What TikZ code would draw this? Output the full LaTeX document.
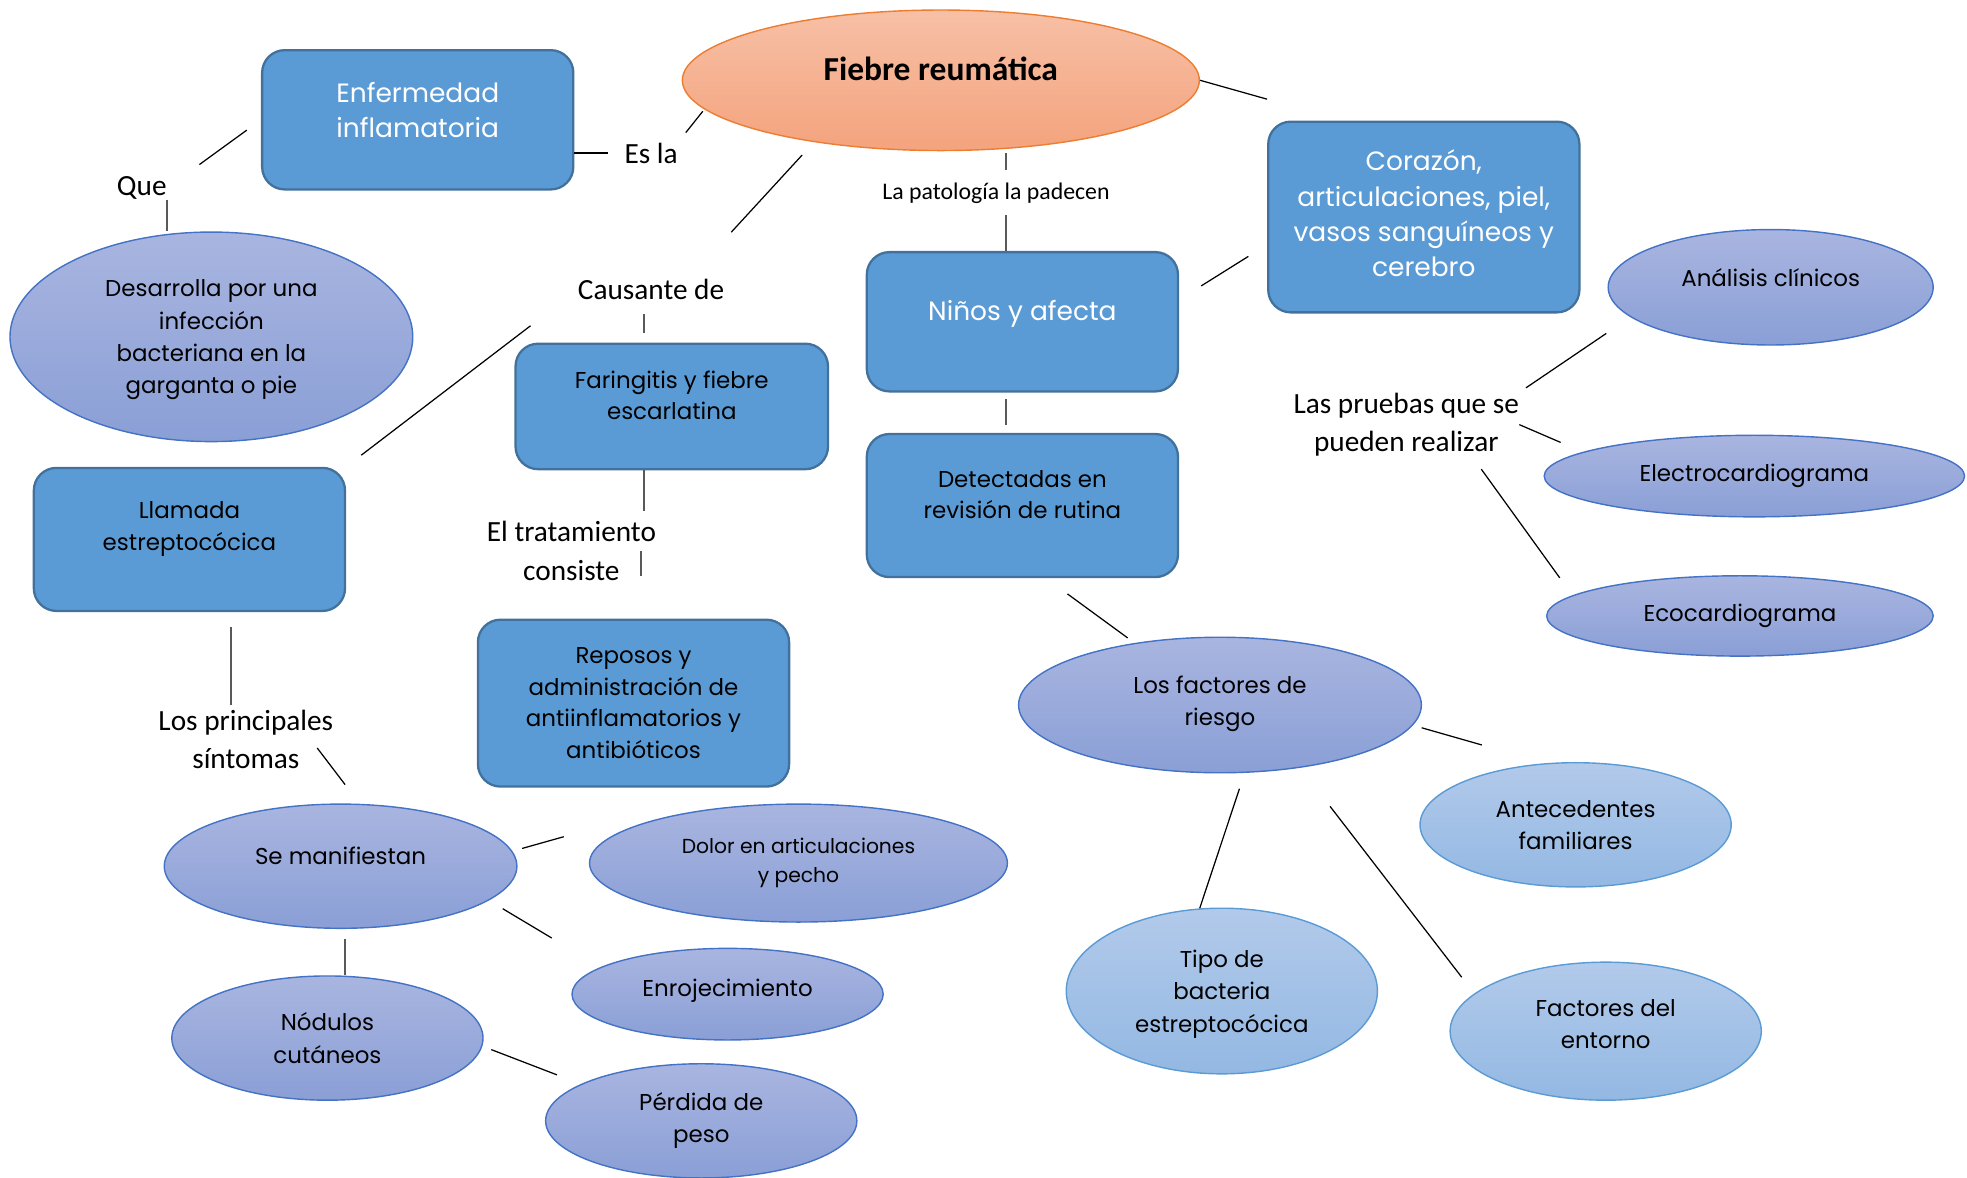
\documentclass[tikz,border=0pt]{standalone}
\usepackage{fontspec}
\setmainfont{Poppins}
\newfontfamily\calibri{Carlito}
\usetikzlibrary{shapes.geometric}
\definecolor{boxblue}{HTML}{5B9BD5}
\definecolor{boxedge}{HTML}{41719C}
\definecolor{lavtop}{HTML}{A9B5E0}
\definecolor{lavbot}{HTML}{8A9FD6}
\definecolor{lavedge}{HTML}{4472C4}
\definecolor{skytop}{HTML}{B2CAEA}
\definecolor{skybot}{HTML}{93B8E3}
\definecolor{skyedge}{HTML}{5B9BD5}
\definecolor{peachtop}{HTML}{F7C0A6}
\definecolor{peachbot}{HTML}{F4A37D}
\definecolor{peachedge}{HTML}{ED7D31}
\definecolor{linkgray}{HTML}{595959}

\begin{document}
\begin{tikzpicture}[x=0.025cm, y=-0.025cm,
    box/.style={draw=boxedge, line width=1.3pt, fill=boxblue, rounded corners=0.45cm, align=center, minimum width=6.2cm, inner sep=2pt},
    wbox/.style={box, text=white, font=\fontsize{15}{20}\selectfont},
    kbox/.style={box, font=\fontsize{13}{17.8}\selectfont},
    oval/.style={ellipse, draw=lavedge, line width=0.8pt, top color=lavtop, bottom color=lavbot, align=center, inner sep=0pt, font=\fontsize{13}{18.3}\selectfont},
    soval/.style={oval, draw=skyedge, top color=skytop, bottom color=skybot},
    lbl/.style={inner sep=0pt, align=center, font=\calibri\fontsize{16.6}{22}\selectfont},
    con/.style={draw=black, line width=0.7pt},
    vcon/.style={draw=linkgray, line width=1pt}]
    \useasboundingbox (0,0) rectangle (1568,939);

    % main topic
    \node[oval, minimum width=10.3cm, minimum height=2.8cm, top color=peachtop, bottom color=peachbot, draw=peachedge, font=\calibri\bfseries\fontsize{19}{23}\selectfont, text depth=12.8pt] (fiebre) at (750,64) {Fiebre reumática};

    % boxes
    \node[wbox, minimum height=2.775cm, text depth=11.4pt] (enf) at (333,95.5) {Enfermedad\\inflamatoria};
    \node[wbox, minimum height=3.8cm, text depth=4.3pt] (cora) at (1135,173) {Corazón,\\articulaciones, piel,\\vasos sanguíneos y\\cerebro};
    \node[wbox, minimum height=2.775cm, text depth=13pt] (nino) at (815,256.5) {Niños y afecta};
    \node[kbox, minimum width=6.225cm, minimum height=2.5cm, text depth=12.8pt] (fari) at (535.5,324) {Faringitis y fiebre\\escarlatina};
    \node[kbox, minimum height=2.85cm, text depth=15pt] (llam) at (151,430) {Llamada\\estreptocócica};
    \node[kbox, minimum height=2.85cm, text depth=12.8pt] (dete) at (815,403) {Detectadas en\\revisión de rutina};
    \node[kbox, minimum height=3.325cm] (repo) at (505,560.5) {Reposos y\\administración de\\antiinflamatorios y\\antibióticos};

    % ellipses
    \node[oval, minimum width=8.025cm, minimum height=4.175cm, text depth=0pt] (desa) at (168.5,268.5) {Desarrolla por una\\infección\\bacteriana en la\\garganta o pie};
    \node[oval, minimum width=6.475cm, minimum height=2.3cm, text depth=11.4pt] (anal) at (1411.5,229) {Análisis clínicos};
    \node[oval, minimum width=8.375cm, minimum height=1.625cm] (elec) at (1398.5,379.5) {Electrocardiograma};
    \node[oval, minimum width=7.7cm, minimum height=1.6cm] (eco) at (1387,491) {Ecocardiograma};
    \node[oval, minimum width=8.025cm, minimum height=2.7cm, text depth=5pt] (ries) at (972.5,562) {Los factores de\\riesgo};
    \node[oval, minimum width=7.025cm, minimum height=2.475cm, text depth=11.4pt] (mani) at (271.5,690.5) {Se manifiestan};
    \node[oval, minimum width=8.325cm, minimum height=2.35cm, font=\fontsize{11.5}{16.5}\selectfont] (dolo) at (636.5,688) {Dolor en articulaciones\\y pecho};
    \node[oval, minimum width=6.2cm, minimum height=1.825cm, text depth=7pt] (enro) at (580,792.5) {Enrojecimiento};
    \node[oval, minimum width=6.2cm, minimum height=2.475cm] (nodu) at (261,827.5) {Nódulos\\cutáneos};
    \node[oval, minimum width=6.2cm, minimum height=2.275cm] (perd) at (559,893.5) {Pérdida de\\peso};
    \node[soval, minimum width=6.2cm, minimum height=2.475cm] (ante) at (1256,657.5) {Antecedentes\\familiares};
    \node[soval, minimum width=6.2cm, minimum height=3.3cm, text depth=0pt] (tipo) at (974,790) {Tipo de\\bacteria\\estreptocócica};
    \node[soval, minimum width=6.2cm, minimum height=2.75cm, text depth=7.8pt] (ento) at (1280,822) {Factores del\\entorno};

    % link words
    \node[lbl] (es) at (519,122) {Es la};
    \node[lbl] (que) at (113,150) {Que};
    \node[lbl] (caus) at (519,231) {Causante de};
    \node[lbl, font=\calibri\fontsize{13.5}{16}\selectfont] (pato) at (794,154) {La patología la padecen};
    \node[lbl] (trat) at (455.5,439.5) {El tratamiento\\consiste};
    \node[lbl] (sint) at (196,589.5) {Los principales\\síntomas};
    \node[lbl] (prue) at (1121,338.5) {Las pruebas que se\\pueden realizar};

    % free ends
    \coordinate (e-cora) at ([yshift=0.425cm]cora.north west);
    \coordinate (e-dolo) at ([xshift=-0.5cm,yshift=0.525cm]dolo.west);

    % connectors
    \draw[con, shorten >=0.33cm] (es.west -| enf.east) -- (es.west);
    \draw[con, shorten <=0.25cm, shorten >=0.05cm] (es.north east) -- (fiebre.187);
    \draw[con, shorten <=0.8cm, shorten >=0.35cm] (que.east) -- (enf.west);
    \draw[vcon] (que.south east) -- (que.south east |- desa.north);
    \draw[con, shorten <=0.35cm, shorten >=1.27cm] (fiebre.206) -- (caus.16);
    \draw[con, shorten <=1.18cm, shorten >=0.38cm] (caus.west) -- (llam.north east);
    \draw[vcon, shorten <=0.28cm, shorten >=0.2cm] ([xshift=-0.55cm]fari.north |- caus.south) -- ([xshift=-0.55cm]fari.north);
    \draw[vcon, shorten <=0.25cm, shorten >=0.03cm] ([xshift=0.2cm]pato.north) -- ([xshift=0.2cm]pato.north |- fiebre.south);
    \draw[vcon, shorten <=0.22cm] ([xshift=0.2cm]pato.south) -- ([xshift=0.2cm]pato.south |- nino.north);
    \draw[con] (fiebre.east) -- (e-cora);
    \draw[con, shorten <=0.52cm, shorten >=0.44cm] (nino.8) -- (cora.190);
    \draw[vcon, shorten <=0.13cm, shorten >=0.15cm] ([xshift=-0.325cm]nino.south) -- ([xshift=-0.325cm]dete.north);
    \draw[con, shorten <=0.53cm, shorten >=0.17cm] (dete.-72) -- (ries.144);
    \draw[con, shorten <=0.18cm, shorten >=1.32cm] (ries.-6) -- (ante.116);
    \draw[con, shorten <=0.33cm] (ries.-70) -- (tipo.105);
    \draw[con, shorten <=0.97cm, shorten >=0.41cm] (ries.-38) -- (ento.164);
    \draw[vcon, shorten >=0.2cm] ([xshift=-0.55cm]fari.south) -- ([xshift=-0.55cm]fari.south |- trat.north);
    \draw[vcon, shorten >=0.85cm] ([xshift=-0.3cm]trat.east) -- ([xshift=-0.3cm]trat.east |- repo.north);
    \draw[vcon, shorten <=0.3cm, shorten >=0.08cm] ([xshift=0.825cm]llam.south) -- ([xshift=0.825cm]llam.south |- sint.north);
    \draw[con, shorten <=-0.54cm, shorten >=0.48cm] (sint.south east) -- (mani.73);
    \draw[con, shorten <=0.2cm] (mani.5) -- (e-dolo);
    \draw[con, shorten <=0.32cm, shorten >=1.13cm] (mani.-13) -- (enro.168);
    \draw[vcon, shorten <=0.2cm] ([xshift=0.09cm]mani.south) -- ([xshift=0.09cm]mani.south |- nodu.north);
    \draw[con, shorten <=0.19cm, shorten >=0.51cm] (nodu.-3) -- (perd.163);
    \draw[con, shorten <=0.16cm, shorten >=0.58cm] (prue.north east) -- (anal.192);
    \draw[con, shorten >=0.48cm] (prue.east) -- (elec.172);
    \draw[con, shorten <=0.3cm, shorten >=0.43cm] (prue.-26) -- (eco.173);
\end{tikzpicture}
\end{document}
